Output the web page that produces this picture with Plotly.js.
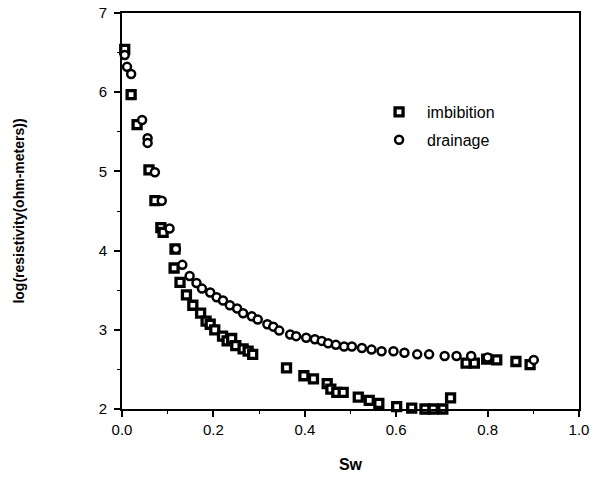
<!DOCTYPE html>
<html>
<head>
<meta charset="utf-8">
<script src="https://cdn.plot.ly/plotly-3.0.1.min.js"></script>
<style>html,body{margin:0;padding:0;background:#fff;}#chart{width:591px;height:493px;}</style>
</head>
<body>
<div id="chart"></div>
<script>
const imbibitionSw = [0.006,0.020,0.033,0.059,0.072,0.085,0.090,0.116,0.114,0.127,0.141,0.155,0.172,0.184,0.193,0.203,0.220,0.230,0.240,0.249,0.265,0.276,0.286,0.360,0.398,0.419,0.449,0.457,0.470,0.484,0.517,0.541,0.562,0.601,0.634,0.663,0.681,0.702,0.719,0.753,0.771,0.798,0.820,0.862,0.893];
const imbibitionLogR = [6.54,5.97,5.59,5.02,4.63,4.29,4.23,4.02,3.78,3.60,3.44,3.31,3.21,3.11,3.07,3.00,2.92,2.86,2.89,2.80,2.76,2.73,2.69,2.52,2.42,2.38,2.32,2.25,2.21,2.21,2.15,2.11,2.07,2.03,2.01,2.00,2.00,2.00,2.14,2.58,2.58,2.63,2.62,2.60,2.56];
const drainageSw = [0.006,0.011,0.020,0.044,0.056,0.056,0.072,0.087,0.104,0.118,0.132,0.148,0.163,0.175,0.193,0.207,0.221,0.236,0.252,0.265,0.284,0.297,0.318,0.331,0.344,0.368,0.381,0.403,0.422,0.437,0.451,0.468,0.486,0.503,0.525,0.546,0.568,0.594,0.618,0.646,0.672,0.706,0.732,0.764,0.800,0.901];
const drainageLogR = [6.47,6.32,6.23,5.65,5.42,5.36,4.99,4.63,4.28,4.02,3.82,3.68,3.59,3.52,3.47,3.41,3.37,3.31,3.27,3.21,3.17,3.13,3.07,3.04,2.99,2.94,2.92,2.90,2.88,2.86,2.83,2.81,2.79,2.79,2.77,2.75,2.73,2.73,2.71,2.69,2.69,2.67,2.67,2.67,2.65,2.62];
const xTickVals = [0,0.2,0.4,0.6,0.8,1.0];
const xTickText = ['0.0','0.2','0.4','0.6','0.8','1.0'];
const yTickVals = [2,3,4,5,6,7];
const yTickText = ['2','3','4','5','6','7'];

const font = 'Liberation Sans, Arial, Helvetica, sans-serif';

const traces = [
  {
    x: imbibitionSw, y: imbibitionLogR, type: 'scatter', mode: 'markers', name: 'imbibition',
    legendgroup: 'a', cliponaxis: false,
    marker: {symbol: 'square', size: 8, color: '#ffffff', line: {color: '#000000', width: 3.3}}
  },
  {
    x: drainageSw, y: drainageLogR, type: 'scatter', mode: 'markers', name: 'drainage',
    legendgroup: 'b', cliponaxis: false,
    marker: {symbol: 'circle', size: 8, color: '#ffffff', line: {color: '#000000', width: 2.5}}
  }
];

const layout = {
  width: 591, height: 493,
  margin: {l: 122, r: 12, t: 13, b: 84},
  paper_bgcolor: '#ffffff', plot_bgcolor: '#ffffff',
  font: {family: font, size: 15, color: '#000000'},
  showlegend: true,
  legend: {x: 0.545, y: 0.793, xanchor: 'left', yanchor: 'top', bgcolor: 'rgba(0,0,0,0)',
           font: {family: font, size: 16, color: '#000'}, itemwidth: 46,
           traceorder: 'grouped', tracegroupgap: 4},
  xaxis: {
    range: [0, 1], tickvals: xTickVals, ticktext: xTickText,
    showgrid: false, zeroline: false, showline: true, linecolor: '#000', linewidth: 2, mirror: true,
    ticks: 'outside', ticklen: 6, tickwidth: 2, tickcolor: '#000',
    minor: {dtick: 0.1, ticks: 'outside', ticklen: 3, tickwidth: 1, tickcolor: '#000', showgrid: false},
    tickfont: {family: font, size: 15, color: '#000'},
    title: {text: '<b>Sw</b>', font: {family: font, size: 16, color: '#000'}, standoff: 22}
  },
  yaxis: {
    range: [2, 7], tickvals: yTickVals, ticktext: yTickText,
    showgrid: false, zeroline: false, showline: true, linecolor: '#000', linewidth: 2, mirror: true,
    ticks: 'outside', ticklen: 6, tickwidth: 2, tickcolor: '#000', ticklabelstandoff: 4,
    minor: {dtick: 0.5, ticks: 'outside', ticklen: 3, tickwidth: 1, tickcolor: '#000', showgrid: false},
    tickfont: {family: font, size: 15, color: '#000'},
    title: {text: '<b>log(resistivity(ohm-meters))</b>', font: {family: font, size: 14, color: '#000'}, standoff: 71}
  }
};

Plotly.newPlot('chart', traces, layout, {displayModeBar: false, staticPlot: true});
</script>
</body>
</html>
